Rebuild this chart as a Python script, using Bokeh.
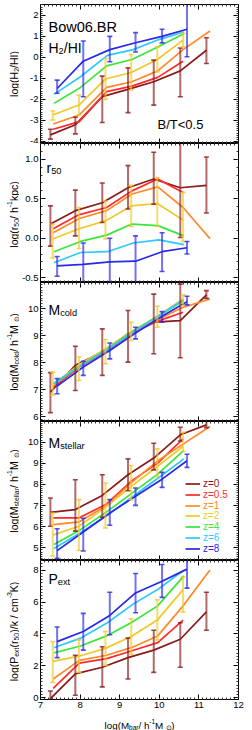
import math
from bokeh.plotting import figure
from bokeh.models import (LinearAxis, SingleIntervalTicker, Range1d, Label, Legend, LegendItem,
                          CustomJSTickFormatter, PrintfTickFormatter)
from bokeh.layouts import column, row
from bokeh.embed import file_html
from bokeh.resources import INLINE

FONT = "Liberation Sans"

z_labels = ["0", "0.5", "1", "2", "4", "6", "8"]
z_colors = ["#8b1a1a", "#ff2a2a", "#ff8a2a", "#f0c828", "#3ae63a", "#2ec8ff", "#2828e6"]
err_z = ["0", "2", "8"]

# log(M_bar) of each redshift's bins
mbar = {
    "0":   [7.25, 7.88, 8.56, 9.21, 9.86, 10.53, 11.19],
    "0.5": [7.32, 7.98, 8.67, 9.31, 9.96, 10.60],
    "1":   [7.32, 7.98, 8.67, 9.31, 9.96, 10.60, 11.28],
    "2":   [7.31, 7.97, 8.64, 9.29, 9.95, 10.60],
    "4":   [7.34, 8.01, 8.67, 9.31, 9.96, 10.62],
    "6":   [7.34, 8.01, 8.69, 9.34, 9.99, 10.62],
    "8":   [7.42, 8.08, 8.75, 9.40, 10.07, 10.70],
}

h2hi = {
    "0":   [-3.69, -3.21, -1.87, -1.52, -1.16, -0.64, 0.34],
    "0.5": [-3.42, -3.06, -1.63, -1.37, -0.95, -0.18],
    "1":   [-3.17, -2.74, -1.43, -1.16, -0.64, 0.37, 1.26],
    "2":   [-2.74, -2.27, -1.03, -0.72, -0.10, 0.82],
    "4":   [-2.19, -1.43, -0.40, -0.10, 0.50, 1.13],
    "6":   [-1.76, -0.92, 0.10, 0.37, 0.85, 1.21],
    "8":   [-1.48, -0.18, 0.37, 0.70, 1.00, 1.34],
}
h2hi_lo = {"0": [-3.89, -3.64, -3.10, -2.63, -2.27, -1.87, -0.29],
           "2": [-2.98, -2.74, -2.00, -1.55, -0.69, 0.50],
           "8": [-1.71, -1.87, -0.21, 0.26, 0.69, 0.03]}
h2hi_hi = {"0": [-3.42, -2.85, -0.89, -0.50, -0.13, 0.45, 0.94],
           "2": [-2.55, -1.79, -0.05, 0.14, 0.50, 1.15],
           "8": [-1.08, 0.78, 1.00, 1.18, 1.34, 2.60]}

r50 = {
    "0":   [0.18, 0.35, 0.45, 0.64, 0.75, 0.64, 0.67],
    "0.5": [0.12, 0.30, 0.39, 0.60, 0.75, 0.58],
    "1":   [0.07, 0.25, 0.35, 0.56, 0.65, 0.39, -0.005],
    "2":   [-0.01, 0.12, 0.22, 0.41, 0.44, 0.23],
    "4":   [-0.17, -0.04, 0.04, 0.18, 0.16, 0.03],
    "6":   [-0.31, -0.18, -0.17, -0.06, -0.02, -0.08],
    "8":   [-0.35, -0.33, -0.30, -0.29, -0.17, -0.12],
}
r50_lo = {"0": [-0.10, 0.03, 0.20, 0.37, 0.43, 0.01, 0.32],
          "2": [-0.25, -0.13, -0.01, 0.15, 0.15, -0.04],
          "8": [-0.48, -0.58, -0.60, -0.58, -0.42, -0.20]}
r50_hi = {"0": [0.41, 0.61, 0.70, 0.92, 1.09, 1.30, 1.03],
          "2": [0.18, 0.39, 0.47, 0.67, 0.77, 0.58],
          "8": [-0.23, -0.06, 0.00, 0.03, 0.07, -0.04]}

mcold = {
    "0":   [6.92, 7.91, 8.40, 9.08, 9.51, 9.57, 10.52],
    "0.5": [7.10, 7.85, 8.45, 9.10, 9.55, 9.88],
    "1":   [7.15, 7.88, 8.48, 9.12, 9.60, 10.06, 10.37],
    "2":   [7.20, 7.93, 8.52, 9.16, 9.73, 10.37],
    "4":   [7.22, 7.90, 8.50, 9.15, 9.72, 10.31],
    "6":   [7.25, 7.90, 8.50, 9.15, 9.75, 10.34],
    "8":   [7.14, 7.85, 8.46, 9.11, 9.73, 10.27],
}
mcold_lo = {"0": [6.16, 6.98, 7.54, 8.03, 8.34, 8.19, 10.39],
            "2": [6.80, 7.35, 7.97, 8.83, 9.32, 10.12],
            "8": [6.86, 7.54, 8.15, 8.89, 9.51, 10.15]}
mcold_hi = {"0": [7.64, 8.62, 9.26, 9.94, 10.55, 10.92, 10.68],
            "2": [7.66, 8.22, 8.87, 9.51, 10.10, 10.52],
            "8": [7.42, 8.06, 8.74, 9.32, 9.90, 10.47]}

mstar = {
    "0":   [6.68, 6.81, 7.48, 8.46, 9.25, 10.35, 10.82],
    "0.5": [6.42, 6.42, 7.08, 8.18, 9.01, 10.16],
    "1":   [6.10, 6.23, 7.01, 8.11, 9.12, 9.91, 10.74],
    "2":   [5.60, 6.02, 6.92, 7.91, 8.85, 9.80],
    "4":   [5.16, 5.86, 6.70, 7.59, 8.49, 9.61],
    "6":   [4.97, 5.71, 6.54, 7.44, 8.33, 9.21],
    "8":   [4.87, 5.75, 6.65, 7.44, 8.25, 9.12],
}
mstar_lo = {"0": [6.02, 5.79, 6.45, 7.70, 8.69, 10.06, 10.69],
            "2": [4.61, 4.87, 5.94, 7.28, 8.38, 9.56],
            "8": [4.50, 4.85, 6.07, 7.01, 7.86, 8.81]}
mstar_hi = {"0": [7.36, 8.22, 8.46, 9.21, 9.95, 10.71, 11.00],
            "2": [6.65, 7.28, 8.07, 8.90, 9.69, 10.47],
            "8": [5.90, 6.40, 7.28, 7.83, 8.57, 9.43]}

pext = {
    "0":   [-0.04, 1.50, 1.92, 2.52, 2.99, 3.67, 5.38],
    "0.5": [0.60, 2.18, 2.46, 2.95, 3.46, 4.87],
    "1":   [1.18, 2.35, 2.67, 3.16, 3.88, 5.76, 8.00],
    "2":   [2.29, 2.61, 3.10, 3.84, 4.87, 6.78],
    "4":   [2.82, 3.25, 3.88, 4.74, 5.76, 7.64],
    "6":   [3.14, 3.74, 4.70, 5.87, 6.83, 8.00],
    "8":   [3.52, 4.16, 5.16, 6.57, 7.30, 8.06],
}
pext_lo = {"0": [-0.30, 0.17, 0.69, 1.18, 1.60, 1.92, 4.23],
           "2": [0.96, 1.60, 2.03, 2.73, 3.63, 5.38],
           "8": [2.52, 2.99, 3.95, 5.33, 6.29, 6.87]}
pext_hi = {"0": [0.43, 2.67, 3.20, 3.74, 4.23, 4.70, 6.61],
           "2": [3.52, 3.63, 4.16, 4.95, 6.14, 7.57],
           "8": [4.44, 5.29, 6.61, 7.79, 8.35, 8.70]}

x_range = (7.0, 12.0)

# ---------------------------------------------------------------- helpers
WID = {' ': 278, '(': 333, ')': 333, '/': 278, '-': 333, '.': 278, '<': 584, '=': 584,
       'a': 556, 'b': 556, 'c': 500, 'd': 556, 'e': 556, 'g': 556, 'h': 556, 'i': 222,
       'k': 500, 'l': 222, 'm': 833, 'o': 556, 'p': 556, 'r': 333, 's': 500, 't': 278,
       'x': 500, 'w': 722, 'B': 667, 'H': 722, 'I': 278, 'K': 667, 'M': 833, 'P': 667,
       'R': 722, 'T': 611, '\u2299': 800}


def tw(s, fs):
    return sum(WID.get(c, 556) for c in s) / 1000.0 * fs


def rich(p, pieces, x, y, fs, angle=0.0, anchor="left", units="screen", sub_scale=0.66):
    sizes = [fs if k == "n" else fs * sub_scale for _, k in pieces]
    widths = [tw(t, s) for (t, _), s in zip(pieces, sizes)]
    pos = -sum(widths) / 2 if anchor == "center" else 0.0
    for (t, k), s, w in zip(pieces, sizes, widths):
        shift = {"n": 0.0, "sub": -0.22 * fs, "sup": 0.40 * fs}[k]
        if angle == 0:
            lx, ly = x + pos, y + shift
        else:
            lx, ly = x - shift, y + pos
        p.add_layout(Label(x=lx, y=ly, x_units=units, y_units=units, text=t,
                           text_font=FONT, text_font_size=f"{s:.1f}px", text_color="black",
                           text_align="left", text_baseline="alphabetic", angle=angle))
        pos += w


def style_axis(ax, labels, fmt="%d"):
    ax.major_tick_in = 5
    ax.major_tick_out = 0
    ax.minor_tick_in = 2
    ax.minor_tick_out = 0
    ax.axis_line_color = "black"
    ax.major_tick_line_color = "black"
    ax.minor_tick_line_color = "#333333"
    if labels:
        ax.formatter = PrintfTickFormatter(format=fmt)
        ax.major_label_text_font = FONT
        ax.major_label_text_font_size = "9.5px"
        ax.major_label_text_color = "black"
        ax.major_label_standoff = 2
    else:
        ax.formatter = CustomJSTickFormatter(code="return ''")
        ax.major_label_text_font_size = "1px"
        ax.major_label_standoff = 0


def blank(w, h):
    f = figure(frame_width=w, frame_height=h, x_range=Range1d(0, w), y_range=Range1d(0, h),
               x_axis_type=None, y_axis_type=None, output_backend="svg", toolbar_location=None,
               min_border=0, outline_line_color=None, background_fill_color="white",
               border_fill_color="white")
    f.xgrid.visible = False
    f.ygrid.visible = False
    return f


FW, FH = 198, 139          # plot frame size
TOP = 4                    # space above first frame
SW = 19                    # width of the strip holding the y titles
LB, RB = 21, 14            # borders of the panels (tick labels / right side)
XB = 14                    # space for x tick labels under the last frame
BH = 730 - TOP - 5 * FH - XB   # strip holding the x title
TOTW = SW + LB + FW + RB

panels = [
    dict(data=h2hi, lo=h2hi_lo, hi=h2hi_hi, yr=(-4.1, 2.52), step=1, minor=10, fmt="%d",
         ylab=[("log(H", "n"), ("2", "sub"), ("/HI)", "n")]),
    dict(data=r50, lo=r50_lo, hi=r50_hi, yr=(-0.56, 1.2), step=0.5, minor=5, fmt="%.1f",
         ylab=[("log(r", "n"), ("50", "sub"), ("/ h", "n"), ("-1", "sup"), (" kpc)", "n")]),
    dict(data=mcold, lo=mcold_lo, hi=mcold_hi, yr=(5.83, 10.98), step=1, minor=10, fmt="%d",
         ylab=[("log(M", "n"), ("cold", "sub"), ("/ h", "n"), ("-1", "sup"), (" M", "n"),
               ("\u2299", "sub"), (")", "n")]),
    dict(data=mstar, lo=mstar_lo, hi=mstar_hi, yr=(4.4, 10.98), step=1, minor=10, fmt="%d",
         ylab=[("log(M", "n"), ("stellar", "sub"), ("/ h", "n"), ("-1", "sup"), (" M", "n"),
               ("\u2299", "sub"), (")", "n")]),
    dict(data=pext, lo=pext_lo, hi=pext_hi, yr=(-0.1, 8.6), step=2, minor=10, fmt="%d",
         ylab=[("log(P", "n"), ("ext", "sub"), ("(r", "n"), ("50", "sub"), (")/k / cm", "n"),
               ("-3", "sup"), (" K)", "n")]),
]

# strip with the rotated y titles
strip = blank(SW, TOP + 5 * FH + XB)
for i, pan in enumerate(panels):
    cy = (TOP + 5 * FH + XB) - (TOP + FH * (i + 0.5))
    rich(strip, pan["ylab"], 13.6, cy, 10.5, angle=math.pi / 2, anchor="center", units="data")

figs = []
for i, pan in enumerate(panels):
    first = i == 0
    last = i == len(panels) - 1
    p = figure(frame_width=FW, frame_height=FH, x_range=Range1d(*x_range),
               y_range=Range1d(*pan["yr"]), output_backend="svg", toolbar_location=None,
               min_border_left=LB, min_border_right=RB, min_border_top=TOP if first else 0,
               min_border_bottom=XB if last else 0, outline_line_color="black",
               background_fill_color="white", border_fill_color="white")
    p.xgrid.visible = False
    p.ygrid.visible = False

    p.below[0].ticker = SingleIntervalTicker(interval=1, num_minor_ticks=10)
    style_axis(p.below[0], last, "%d")
    p.left[0].ticker = SingleIntervalTicker(interval=pan["step"], num_minor_ticks=pan["minor"])
    style_axis(p.left[0], True, pan["fmt"])
    top = LinearAxis(ticker=SingleIntervalTicker(interval=1, num_minor_ticks=10))
    style_axis(top, False)
    p.add_layout(top, "above")
    right = LinearAxis(ticker=SingleIntervalTicker(interval=pan["step"], num_minor_ticks=pan["minor"]))
    style_axis(right, False)
    p.add_layout(right, "right")

    rends = {}
    for z, c in zip(z_labels, z_colors):
        rends[z] = p.line(mbar[z], pan["data"][z], line_color=c, line_width=1.7)
    for z in err_z:
        c = z_colors[z_labels.index(z)]
        xs = mbar[z]
        p.segment(x0=xs, y0=pan["lo"][z], x1=xs, y1=pan["hi"][z], line_color=c,
                  line_width=2, line_alpha=0.65)
        p.scatter(xs, pan["lo"][z], marker="dash", size=5, line_color=c, line_width=1.6,
                  line_alpha=0.8)
        p.scatter(xs, pan["hi"][z], marker="dash", size=5, line_color=c, line_width=1.6,
                  line_alpha=0.8)

    if i == 0:
        rich(p, [("Bow06.BR", "n")], 8, FH - 22, 14.5)
        rich(p, [("H", "n"), ("2", "sub"), ("/HI", "n")], 8, FH - 43, 14)
        rich(p, [("B/T<0.5", "n")], 117, FH - 120, 13)
    elif i == 1:
        rich(p, [("r", "n"), ("50", "sub")], 6, FH - 24.5, 14)
    elif i == 2:
        rich(p, [("M", "n"), ("cold", "sub")], 8, FH - 27.5, 14)
    elif i == 3:
        rich(p, [("M", "n"), ("stellar", "sub")], 8, FH - 21, 14)
        for k, (z, c) in enumerate(zip(z_labels, z_colors)):
            lg = Legend(items=[LegendItem(label=f"z={z}", renderers=[rends[z]])],
                        location=(145, 71 - 10.8 * k), padding=0, margin=0, spacing=0,
                        glyph_width=15, glyph_height=9, label_height=9, label_standoff=3,
                        label_text_font=FONT, label_text_font_size="10px",
                        label_text_color=c, border_line_alpha=0, background_fill_alpha=0)
            p.add_layout(lg)
    else:
        rich(p, [("P", "n"), ("ext", "sub")], 8, FH - 18.5, 14)
    figs.append(p)

# strip with the x title (full width)
xstrip = blank(TOTW, BH)
rich(xstrip, [("log(M", "n"), ("bar", "sub"), ("/ h", "n"), ("-1", "sup"), (" M", "n"),
              ("\u2299", "sub"), (")", "n")], SW + LB + FW / 2, BH - 12.0, 9.8,
     anchor="center", units="data")

layout = column(row(strip, column(*figs, spacing=0), spacing=0), xstrip, spacing=0)
open("out.html", "w").write(file_html(layout, INLINE))
